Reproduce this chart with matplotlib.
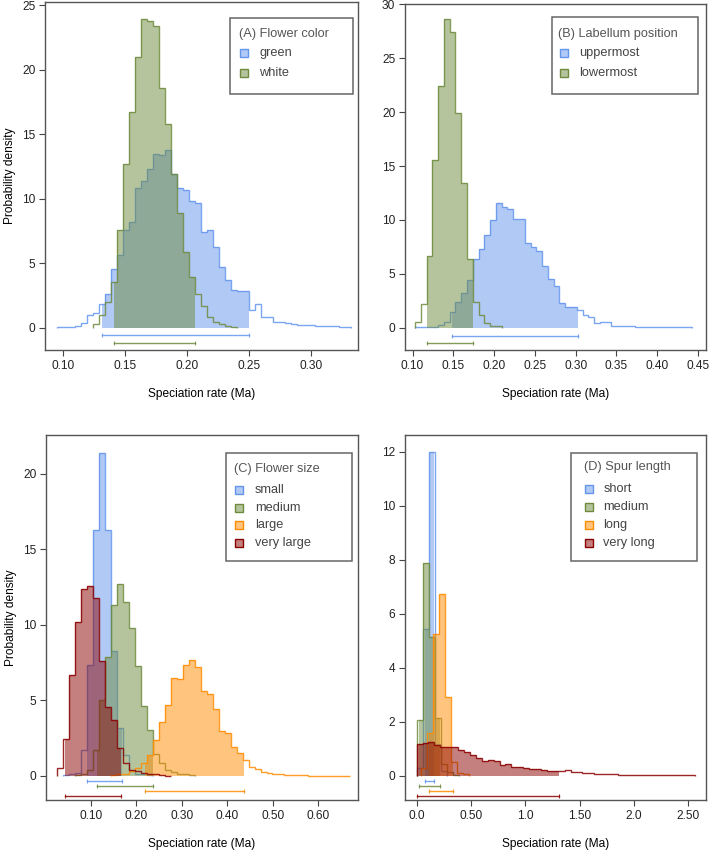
import numpy as np
import matplotlib
matplotlib.use("Agg")
import matplotlib.pyplot as plt
from matplotlib.patches import Rectangle

plt.rcParams["font.family"] = ["Liberation Sans", "DejaVu Sans"]

W, H = 715, 850

BLUE = "#6495ED"
GREEN = "#6E8B3D"
ORANGE = "#FF8C00"
RED = "#8B0000"

# ---- (A) Flower color: histogram range, bin heights, 95% HPD
a_green_range = (0.0954, 0.3325)
a_green_hist = [0.08, 0.05, 0.08, 0.10, 0.39, 0.98, 1.10, 1.84, 2.61, 4.52,
                5.64, 7.57, 8.22, 10.8, 11.4, 12.3, 13.5, 13.4, 13.8, 11.9,
                10.8, 10.7, 9.8, 9.7, 7.44, 7.57, 6.28, 4.73, 3.70, 2.92,
                2.87, 2.87, 1.37, 1.84, 0.85, 0.85, 0.47, 0.47, 0.34, 0.30,
                0.21, 0.21, 0.18, 0.15, 0.15, 0.10, 0.12, 0.08, 0.06]
a_green_hpd = (0.1312, 0.2504)
a_white_range = (0.1244, 0.2405)
a_white_hist = [0.29, 1.0, 2.0, 3.57, 7.57, 12.7, 16.7, 21.0, 23.9, 23.8,
                23.4, 18.6, 15.8, 11.9, 8.9, 5.9, 3.9, 2.6, 1.7, 0.85,
                0.47, 0.29, 0.16, 0.08]
a_white_hpd = (0.1411, 0.2065)

# ---- (B) Labellum position
b_upper_range = (0.1031, 0.4430)
b_upper_hist = [0.05, 0.05, 0.08, 0.10, 0.25, 0.5, 1.48, 2.4, 3.25, 4.4,
                6.35, 7.27, 8.6, 10.0, 11.6, 11.2, 11.0, 10.1, 10.1, 7.9,
                7.5, 7.14, 5.72, 4.49, 3.87, 2.32, 1.89, 1.89, 1.6, 1.18,
                1.02, 0.41, 0.56, 0.5, 0.16, 0.18, 0.14, 0.12, 0.1, 0.08,
                0.1, 0.06, 0.08, 0.05, 0.06, 0.05, 0.05, 0.04]
b_upper_hpd = (0.148, 0.3032)
b_lower_range = (0.1031, 0.2093)
b_lower_hist = [0.56, 2.2, 6.65, 15.6, 22.4, 28.6, 27.4, 19.9, 13.4, 6.4,
                2.35, 1.18, 0.47, 0.15, 0.15]
b_lower_hpd = (0.1181, 0.1745)

# ---- (C) Flower size
c_small_range = (0.0402, 0.2369)
c_small_hist = [0.05, 0.1, 0.2, 1.72, 7.35, 16.3, 21.4, 16.3, 8.3, 3.2,
                1.39, 0.35, 0.15, 0.1, 0.05]
c_small_hpd = (0.091, 0.169)
c_medium_range = (0.0663, 0.3285)
c_medium_hist = [0.05, 0.15, 0.4, 1.7, 5.0, 7.85, 11.35, 12.7, 11.5, 9.8,
                 7.26, 4.65, 3.07, 1.48, 0.89, 0.4, 0.25, 0.15, 0.1, 0.05]
c_medium_hpd = (0.1144, 0.2375)
c_large_range = (0.1452, 0.6696)
c_large_hist = [0.05, 0.1, 0.15, 0.3, 0.5, 0.88, 1.42, 2.4, 3.6, 4.7,
                6.5, 6.45, 7.35, 7.7, 7.2, 5.6, 5.4, 4.42, 3.0, 2.84,
                1.9, 1.55, 1.06, 0.62, 0.44, 0.28, 0.17, 0.12, 0.1, 0.07,
                0.05, 0.05, 0.04, 0.03, 0.03, 0.02, 0.02, 0.02, 0.02, 0.02]
c_large_hpd = (0.219, 0.437)
c_vlarge_range = (0.0270, 0.2761)
c_vlarge_hist = [0.5, 2.43, 6.69, 10.2, 12.4, 12.6, 11.8, 7.6, 4.6, 3.7,
                 1.85, 0.84, 0.4, 0.3, 0.2, 0.12, 0.1, 0.05, 0.03]
c_vlarge_hpd = (0.0435, 0.1658)

# ---- (D) Spur length
d_short_range = (0.0, 0.276)
d_short_hist = [0.3, 5.43, 12.0, 1.2, 0.2]
d_short_hpd = (0.077, 0.163)
d_medium_range = (0.0, 0.3864)
d_medium_hist = [2.07, 7.89, 5.13, 2.13, 0.45, 0.15, 0.05]
d_medium_hpd = (0.021, 0.216)
d_long_range = (0.0375, 0.4791)
d_long_hist = [0.3, 1.6, 5.25, 6.72, 2.92, 0.53, 0.12, 0.06]
d_long_hpd = (0.117, 0.339)
d_vlong_range = (0.0, 2.56)
d_vlong_hist = [1.18, 1.22, 1.27, 1.15, 1.08, 1.07, 1.06, 0.96, 0.87, 0.78,
                0.65, 0.57, 0.6, 0.57, 0.42, 0.45, 0.33, 0.33, 0.3, 0.27,
                0.24, 0.22, 0.2, 0.2, 0.2, 0.21, 0.16, 0.14, 0.12, 0.1,
                0.09, 0.08, 0.07, 0.06, 0.05, 0.05, 0.04, 0.04, 0.04, 0.03,
                0.04, 0.03, 0.03, 0.03, 0.02, 0.03, 0.02]
d_vlong_hpd = (0.0, 1.312)

d_tick_values = [0.0, 0.5, 1.0, 1.5, 2.0, 2.5]
d_tick_labels = ["0.0", "0.50", "1.0", "1.50", "2.0", "2.50"]


fig = plt.figure(figsize=(W / 100, H / 100), dpi=100)


def add_axes_px(left, top, right, bottom):
    return fig.add_axes([left / W, 1 - bottom / H, (right - left) / W, (bottom - top) / H])


def draw_posterior(ax, rng, heights, hpd, color, hpd_y):
    heights = np.asarray(heights, dtype=float)
    edges = np.linspace(rng[0], rng[1], len(heights) + 1)
    inner = edges[(edges > hpd[0]) & (edges < hpd[1])]
    xs = np.concatenate([[hpd[0]], inner, [hpd[1]]])
    idx = np.clip(np.searchsorted(edges, xs, side="right") - 1, 0, len(heights) - 1)
    ax.fill_between(xs, heights[idx], step="post", color=color, alpha=0.5, lw=0)
    ax.stairs(heights, edges, baseline=0, color=color, lw=1.0, alpha=0.85)
    ax.plot(hpd, [hpd_y, hpd_y], color=color, lw=1.0, alpha=0.85)
    ax.plot(hpd, [hpd_y, hpd_y], ls="none", marker="|", ms=3, mew=0.8, color=color, alpha=0.85)


def style_axes(ax, xlim, ylim, ylabel=True):
    ax.set_xlim(*xlim)
    ax.set_ylim(*ylim)
    for sp in ax.spines.values():
        sp.set_color("#555555")
        sp.set_linewidth(1.0)
    ax.tick_params(direction="out", length=4, width=0.8, color="#444444",
                   labelsize=8.6, labelcolor="#222222", pad=3)
    ax.set_xlabel("Speciation rate (Ma)", fontsize=8.6, labelpad=12)
    if ylabel:
        ax.set_ylabel("Probability density", fontsize=8.6)
        ax.yaxis.set_label_coords(-0.094, 0.5)


def draw_legend(box, title, title_xy, mark_x, text_x, rows):
    x0, y0, x1, y1 = box
    fig.patches.append(Rectangle((x0 / W, 1 - y1 / H), (x1 - x0) / W, (y1 - y0) / H,
                                 transform=fig.transFigure, fill=False,
                                 edgecolor="#666666", lw=1.1))
    fig.text(title_xy[0] / W, 1 - title_xy[1] / H, title, fontsize=9.2,
             color="#555555", va="center", ha="left")
    for (label, color), y in rows:
        fig.lines.append(plt.Line2D([mark_x / W], [1 - y / H], transform=fig.transFigure,
                                    marker="s", ms=6.2, mew=1.0, mec=color,
                                    mfc=matplotlib.colors.to_rgba(color, 0.5), ls="none"))
        fig.text(text_x / W, 1 - y / H, label, fontsize=9.2, color="#444444",
                 va="center", ha="left")


# (A)
ax = add_axes_px(45, 2, 358, 350)
draw_posterior(ax, a_green_range, a_green_hist, a_green_hpd, BLUE, -0.57)
draw_posterior(ax, a_white_range, a_white_hist, a_white_hpd, GREEN, -1.16)
style_axes(ax, (0.0855, 0.338), (-1.73, 25.25))
ax.set_xticks([0.10, 0.15, 0.20, 0.25, 0.30])
ax.xaxis.set_major_formatter("{x:.2f}")
ax.set_yticks([0, 5, 10, 15, 20, 25])
draw_legend((230, 18.3, 353.3, 94), "(A) Flower color", (239.3, 34.3), 244, 259,
            [(("green", BLUE), 53.3), (("white", GREEN), 72.7)])

# (B)
ax = add_axes_px(405, 4, 706, 350)
draw_posterior(ax, b_upper_range, b_upper_hist, b_upper_hpd, BLUE, -0.77)
draw_posterior(ax, b_lower_range, b_lower_hist, b_lower_hpd, GREEN, -1.45)
style_axes(ax, (0.0908, 0.4597), (-2.07, 30.03), ylabel=False)
ax.set_xticks([0.10, 0.15, 0.20, 0.25, 0.30, 0.35, 0.40, 0.45])
ax.xaxis.set_major_formatter("{x:.2f}")
ax.set_yticks([0, 5, 10, 15, 20, 25, 30])
draw_legend((552.3, 16.7, 698.3, 94), "(B) Labellum position", (557.7, 34), 564.3, 579.3,
            [(("uppermost", BLUE), 53.3), (("lowermost", GREEN), 72.7)])

# (C)
ax = add_axes_px(46, 435, 358, 800)
draw_posterior(ax, c_small_range, c_small_hist, c_small_hpd, BLUE, -0.33)
draw_posterior(ax, c_medium_range, c_medium_hist, c_medium_hpd, GREEN, -0.66)
draw_posterior(ax, c_large_range, c_large_hist, c_large_hpd, ORANGE, -0.97)
draw_posterior(ax, c_vlarge_range, c_vlarge_hist, c_vlarge_hpd, RED, -1.30)
style_axes(ax, (0.0018, 0.687), (-1.59, 22.58))
ax.set_xticks([0.10, 0.20, 0.30, 0.40, 0.50, 0.60])
ax.xaxis.set_major_formatter("{x:.2f}")
ax.set_yticks([0, 5, 10, 15, 20])
draw_legend((225.7, 452.7, 351.7, 561), "(C) Flower size", (234, 469.3), 239.3, 255,
            [(("small", BLUE), 490), (("medium", GREEN), 508.3),
             (("large", ORANGE), 525), (("very large", RED), 543.3)])

# (D)
ax = add_axes_px(405, 435, 706, 800)
draw_posterior(ax, d_short_range, d_short_hist, d_short_hpd, BLUE, -0.17)
draw_posterior(ax, d_medium_range, d_medium_hist, d_medium_hpd, GREEN, -0.36)
draw_posterior(ax, d_long_range, d_long_hist, d_long_hpd, ORANGE, -0.54)
draw_posterior(ax, d_vlong_range, d_vlong_hist, d_vlong_hpd, RED, -0.73)
style_axes(ax, (-0.107, 2.661), (-0.89, 12.62), ylabel=False)
ax.set_xticks(d_tick_values)
ax.set_xticklabels(d_tick_labels)
ax.set_yticks([0, 2, 4, 6, 8, 10, 12])
draw_legend((571, 453.3, 697.3, 560.7), "(D) Spur length", (584, 466.7), 589.3, 603.3,
            [(("short", BLUE), 489.3), (("medium", GREEN), 507.3),
             (("long", ORANGE), 525.3), (("very long", RED), 543.3)])

fig.savefig("out.png", dpi=100)
